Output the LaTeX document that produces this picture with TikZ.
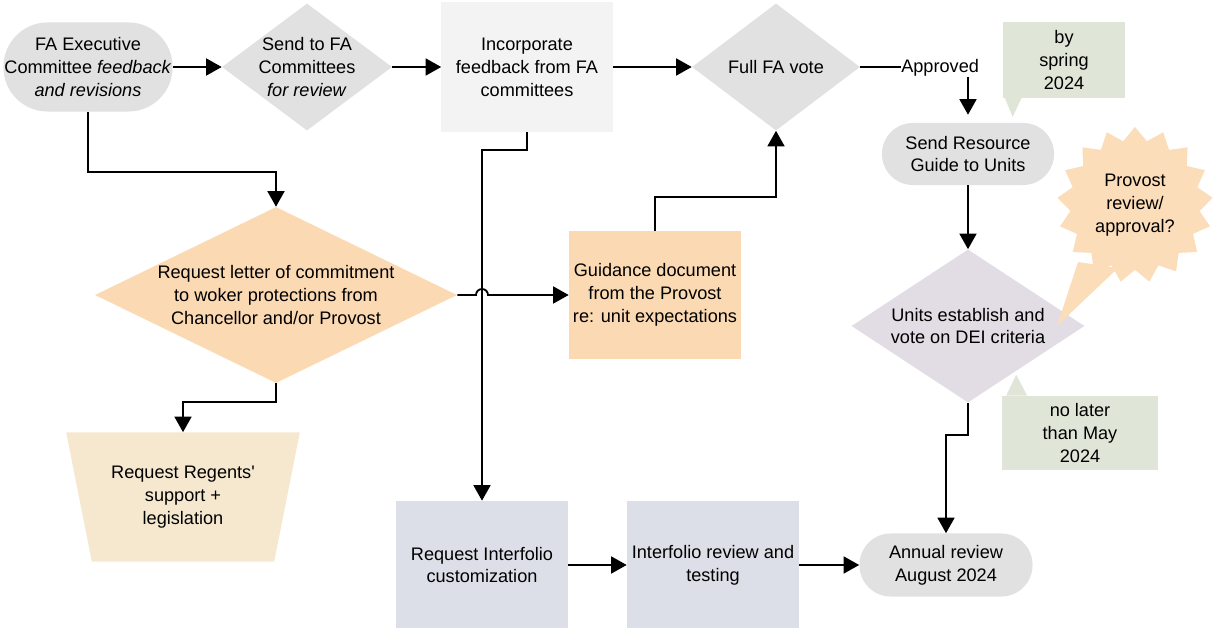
\documentclass[tikz,border=0pt]{standalone}
\usepackage{fontspec}
\setmainfont{Liberation Sans}
\usetikzlibrary{positioning,shapes.geometric,shapes.misc,shapes.symbols,arrows.meta}

\definecolor{pillgray}{HTML}{E1E1E1}
\definecolor{boxgray}{HTML}{F3F3F3}
\definecolor{peach}{HTML}{FBD9B2}
\definecolor{burstpeach}{HTML}{FCDDBA}
\definecolor{beige}{HTML}{F6E8CF}
\definecolor{lavender}{HTML}{E2DCE4}
\definecolor{bluegray}{HTML}{DCDFE7}
\definecolor{notegreen}{HTML}{DFE6D8}

\begin{document}
\begin{tikzpicture}[x=0.025cm, y=-0.025cm,
    every node/.style={font=\fontsize{12.9}{16.3}\selectfont, align=center, inner sep=0pt},
    flow/.style={-{Triangle[length=11pt,width=12pt]}, line width=1.3pt},
    link/.style={-, line width=1.3pt},
    pill/.style={rectangle, fill=pillgray},
    dia/.style={diamond, inner sep=0pt},
    note/.style={rectangle, fill=notegreen}]
    \useasboundingbox (0,0) rectangle (1213,628);

    %% Top row
    \node[pill, rounded corners=1.1cm, minimum width=4.225cm, minimum height=2.225cm] (fa) at (88,67) {FA Executive\\Committee \textit{feedback}\\\textit{and revisions}};
    \node[dia, fill=pillgray, minimum width=4.25cm, minimum height=3.175cm, label={center:{Send to FA\\Committees\\\textit{for review}}}] (send) at (307,67) {};
    \node[rectangle, fill=boxgray, minimum width=4.275cm, minimum height=3.225cm] (inc) at (527,67) {Incorporate\\feedback from FA\\committees};
    \node[dia, fill=pillgray, minimum width=4.2cm, minimum height=3.175cm, label={center:{Full FA vote}}] (vote) at (776,67) {};
    \node[anchor=west] (approved) at (901,68) {Approved};

    \draw[flow] (fa.east) -- (send.west);
    \draw[flow] (send.east) -- (inc.west);
    \draw[flow] (inc.east) -- (vote.west);
    \draw[link] (vote.east) -- (vote.east -| approved.west);

    %% Right column
    \node[pill, rounded corners=0.77cm, minimum width=4.3cm, minimum height=1.55cm] (guide) at (968,154) {Send Resource\\Guide to Units};
    \node[dia, fill=lavender, minimum width=5.825cm, minimum height=3.825cm, label={center:{Units establish and\\vote on DEI criteria}}] (units) at (968,326) {};
    \node[pill, rounded corners=0.78cm, minimum width=4.325cm, minimum height=1.575cm] (annual) at (946,565) {Annual review\\August 2024};

    \draw[flow, shorten >=0.2cm] (approved.south -| guide.north) -- (guide.north);
    \draw[flow] (guide.south) -- (units.north);
    \draw[flow] (units.south) -- ++(0,32) -| (annual.north);

    %% Notes
    \node[note, minimum width=3.05cm, minimum height=1.875cm] (spring) at (1064,60) {by\\spring\\2024};
    \fill[notegreen] ([xshift=0.05cm]spring.south west) -- ++(17,0) -- ++(-9,19) -- cycle;
    \node[note, minimum width=3.875cm, minimum height=1.85cm] (later) at (1080,433) {no later\\than May\\2024};
    \fill[notegreen] ([xshift=0.1cm]later.north west) -- ++(21,0) -- ++(-11,-21) -- cycle;

    \fill[burstpeach] (1078,262) -- (1057,326) -- (1118,268) -- cycle;
    \node[starburst, starburst points=17, starburst point height=0.33cm, random starburst=0, fill=burstpeach, minimum width=3.9cm, minimum height=3.9cm] (burst) at (1135,205) {Provost\\review/\\approval?};

    %% Middle
    \node[dia, fill=peach, minimum width=9.05cm, minimum height=4.4cm, label={center:{Request letter of commitment\\to woker protections from\\Chancellor and/or Provost}}] (letter) at (276,295) {};
    \node[rectangle, fill=peach, minimum width=4.3cm, minimum height=3.175cm] (guidance) at (655,295) {Guidance document\\from the Provost\\re: unit expectations};
    \node[trapezium, trapezium stretches=true, trapezium left angle=72, trapezium right angle=72, shape border rotate=180, fill=beige, minimum width=5.85cm, minimum height=3.225cm] (regents) at (183,497) {Request Regents\textquotesingle\\support +\\legislation};

    %% Bottom row
    \node[rectangle, fill=bluegray, minimum width=4.3cm, minimum height=3.2cm] (ireq) at (482,565) {Request Interfolio\\customization};
    \node[rectangle, fill=bluegray, minimum width=4.3cm, minimum height=3.2cm] (itest) at (713,565) {Interfolio review and\\testing};

    \draw[flow] (ireq.east) -- (itest.west);
    \draw[flow] (itest.east) -- (annual.west);

    %% Connectors across
    \draw[flow] (fa.south) -- ++(0,60) -| (letter.north);
    \draw[flow] (letter.south) -- ++(0,19) -| (regents.north);
    \draw[flow] (inc.south) -- ++(0,18) -| (ireq.north);
    \draw[flow] (letter.east) -- ([xshift=-0.15cm]letter.east -| ireq.north) arc[start angle=180, end angle=0, radius=0.15cm] -- (guidance.west);
    \draw[flow] (guidance.north) -- ++(0,-34) -| (vote.south);
\end{tikzpicture}
\end{document}
